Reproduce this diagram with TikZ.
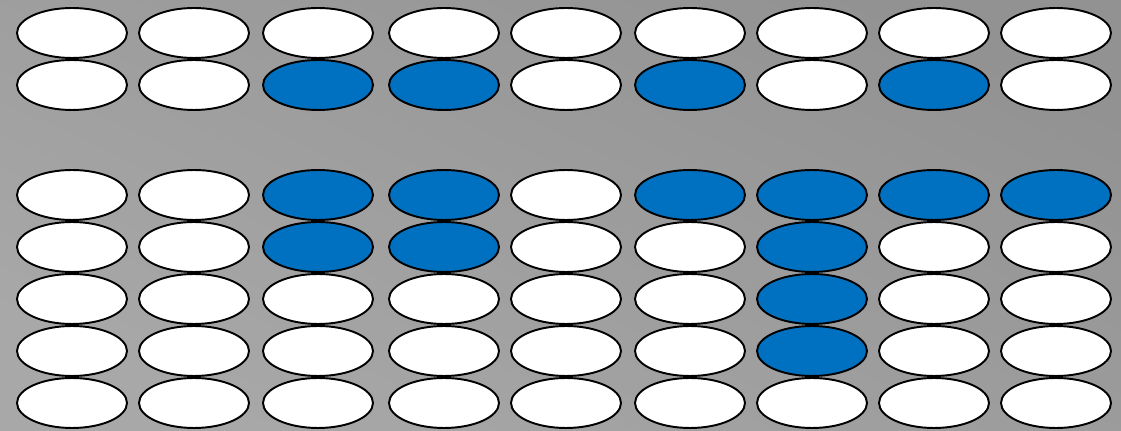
\documentclass[tikz,border=0pt]{standalone}
\usepackage{tikz}
\usetikzlibrary{shapes.geometric}
\definecolor{beadon}{HTML}{0070C0}
\colorlet{beadoff}{white}
\definecolor{bglight}{RGB}{168,168,168}
\definecolor{bgdark}{RGB}{146,146,146}
\tikzset{
  bead/.style={ellipse,draw=black,line width=1.1pt,minimum width=2.2cm,minimum height=1.0cm,inner sep=0pt},
}
\begin{document}
\begin{tikzpicture}[x=0.02cm,y=-0.02cm]
  \useasboundingbox (0,0) rectangle (1121,431);
  \shade[shading=axis,top color=bgdark,bottom color=bglight,shading angle=-25] (0,0) rectangle (1121,431);
  % rows: y position / bead colours left to right
  \foreach \r/\y/\cols in {
      1/33/{beadoff,beadoff,beadoff,beadoff,beadoff,beadoff,beadoff,beadoff,beadoff},
      2/85/{beadoff,beadoff,beadon,beadon,beadoff,beadon,beadoff,beadon,beadoff},
      3/195/{beadoff,beadoff,beadon,beadon,beadoff,beadon,beadon,beadon,beadon},
      4/247/{beadoff,beadoff,beadon,beadon,beadoff,beadoff,beadon,beadoff,beadoff},
      5/299/{beadoff,beadoff,beadoff,beadoff,beadoff,beadoff,beadon,beadoff,beadoff},
      6/351/{beadoff,beadoff,beadoff,beadoff,beadoff,beadoff,beadon,beadoff,beadoff},
      7/403/{beadoff,beadoff,beadoff,beadoff,beadoff,beadoff,beadoff,beadoff,beadoff}}{
    \foreach \f [count=\i] in \cols {
      \pgfmathsetmacro{\x}{{72,194,318,444,566,690,812,934,1056}[\i-1]}
      \node[bead,fill=\f] (b-\r-\i) at (\x,\y) {};
    }
  }
\end{tikzpicture}
\end{document}
